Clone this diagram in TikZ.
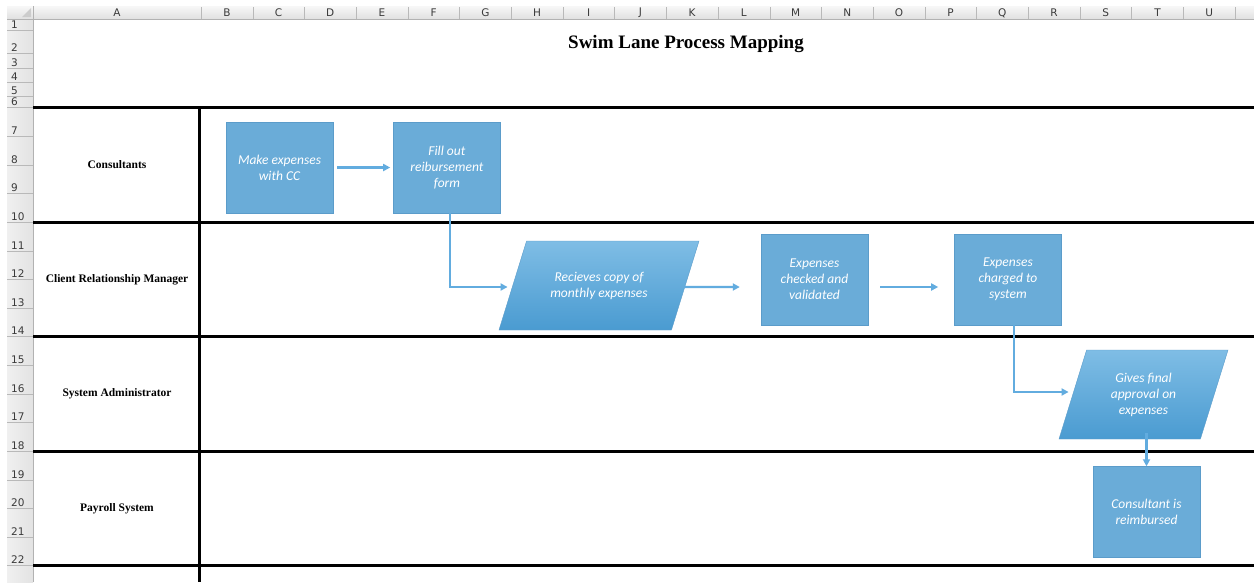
\documentclass[tikz,border=0pt]{standalone}
\usepackage{fontspec}
\setmainfont{Liberation Serif}
\newfontfamily\calibri{Carlito}
\newfontfamily\uisans{DejaVu Sans}
\usepackage{xcolor}
\usetikzlibrary{shapes.geometric, arrows.meta, positioning, calc}

\definecolor{boxblue}{HTML}{6AACD8}
\definecolor{boxedge}{HTML}{5B9CCA}
\definecolor{linkblue}{HTML}{62ACDF}
\definecolor{datatop}{HTML}{7FBDE5}
\definecolor{databot}{HTML}{4A9BD1}
\definecolor{headtext}{HTML}{3A3A3A}

\begin{document}
\begin{tikzpicture}[
    x=1pt, y=-1pt,
    every node/.style={inner sep=0pt},
    process/.style={rectangle, draw=boxedge, fill=boxblue, minimum width=107pt, minimum height=91pt, align=center, text=white, font=\calibri\itshape\fontsize{13.5}{16}\selectfont},
    data/.style={trapezium, trapezium left angle=72.5, trapezium right angle=107.5, trapezium stretches body, draw=boxedge, top color=datatop, bottom color=databot, minimum height=89pt, align=center, text=white, font=\calibri\itshape\fontsize{13.5}{16}\selectfont},
    lane/.style={font=\bfseries\fontsize{11.5}{13}\selectfont},
    head/.style={font=\uisans\fontsize{10.5}{12}\selectfont, text=headtext},
    arrow/.style={-{Triangle[length=7pt,width=7pt]}, draw=linkblue, line width=2.4pt},
    lanerule/.style={line width=3pt}
]
\useasboundingbox (0,0) rectangle (1254,582);
\fill[white] (0,0) rectangle (1254,582);

% sheet headers
\shade[top color=gray!6, bottom color=gray!24] (7,6) rectangle (1254,19);
\shade[left color=gray!12, right color=gray!22] (7,19) rectangle (33,582);
\fill[gray!40] (31,8) -- (31,17) -- (22,17) -- cycle;
\draw[gray!60] (7,19) -- (1254,19);
\draw[gray!60] (33,6) -- (33,582);
\node[head] at (117,13) {A};
\foreach \c [count=\i from 0] in {B,C,D,E,F,G,H,I,J,K,L,M,N,O,P,Q,R,S,T,U} {
  \draw[gray!55] ({201+51.7*\i},7) -- ({201+51.7*\i},19);
  \node[head] at ({226.85+51.7*\i},13) {\c};
}
\draw[gray!55] (1235,7) -- (1235,19);
\foreach \r/\yb in {1/30,2/53,3/68,4/82,5/96,6/107,7/136,8/165,9/193,10/222,11/251,12/279,13/308,14/336,15/365,16/394,17/422,18/451,19/480,20/508,21/537,22/565} {
  \draw[gray!55] (7,\yb) -- (33,\yb);
  \node[head, anchor=base west] at (11,\yb-2) {\r};
}

% title
\node[font=\bfseries\fontsize{19}{22}\selectfont] (title) at (686,44) {Swim Lane Process Mapping};

% lanes
\foreach \y in {107,222,336,451,565}
  \draw[lanerule] (33,\y) -- (1254,\y);
\draw[lanerule] (199,107) -- (199,582);
\node[lane] (consult) at (117,165) {Consultants};
\node[lane] (crm) at (117,280) {Client Relationship Manager};
\node[lane] (sysadmin) at (117,394) {System Administrator};
\node[lane] (payroll) at (117,509) {Payroll System};

% steps
\node[process] (make) at (279.5,167.5) {Make expenses\\with CC};
\node[process, right=60pt of make] (fill) {Fill out\\reibursement\\form};
\node[data, inner ysep=30pt, minimum width=200pt] (recv) at (599,285.5) {Recieves copy of\\monthly expenses};
\node[process] (check) at (814.5,279.5) {Expenses\\checked and\\validated};
\node[process, right=86pt of check] (charge) {Expenses\\charged to\\system};
\node[data, inner ysep=22pt, minimum width=169pt] (approve) at (1143.5,394.5) {Gives final\\approval on\\expenses};
\node[process] (paid) at (1146.5,512) {Consultant is\\reimbursed};

% flow
\draw[arrow, shorten <=4pt, shorten >=3pt] (make) -- (fill);
\draw[arrow, shorten >=5pt] ([xshift=3pt]fill.south) |- ([yshift=-1.5pt]recv.west);
\draw[arrow, shorten <=-1pt, shorten >=21pt] ([yshift=-1.5pt]recv.east) -- ([yshift=-7.5pt]check.west);
\draw[arrow, shorten <=12pt, shorten >=16pt] ([yshift=-7.5pt]check.east) -- ([yshift=-7.5pt]charge.west);
\draw[arrow, shorten >=4pt] ([xshift=6pt]charge.south) |- ([yshift=2.5pt]approve.west);
\draw[arrow, shorten <=-6pt] (approve.south -| paid.north) -- (paid.north);
\end{tikzpicture}
\end{document}
